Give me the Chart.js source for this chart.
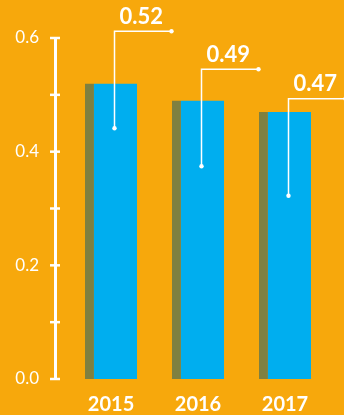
<!DOCTYPE html>
<html>
<head>
<meta charset="utf-8">
<script src="https://cdn.jsdelivr.net/npm/chart.js@4.4.1/dist/chart.umd.min.js"></script>
<style>
    html, body { margin: 0; padding: 0; background: #F7A80C; }
    #wrap { position: relative; width: 344px; height: 415px; }
</style>
</head>
<body>
<div id="wrap"><canvas id="ratioChart"></canvas></div>
<script>
// Données
const years = ['2015', '2016', '2017'];
const ratios = [0.52, 0.49, 0.47];
const yTicks = [0.0, 0.1, 0.2, 0.3, 0.4, 0.5, 0.6];

// Hauteur des repères (en unités de l'axe y) et longueur des traits, en pixels
const calloutTop = [0.612, 0.545, 0.493];
const calloutDrop = 97;
const calloutRun = 57;

const BLUE = '#00AEEF';
const OLIVE = '#7F8040';
const WHITE = '#FFFFFF';

/**
 * Croix blanches sur l'axe y à chaque graduation
 */
const axisCrossPlugin = {
    id: 'axisCross',
    afterDraw(chart) {
        const { ctx, chartArea, scales } = chart;
        const x = chartArea.left;
        ctx.save();
        ctx.strokeStyle = WHITE;
        ctx.lineWidth = 2.5;
        yTicks.forEach(v => {
            const y = scales.y.getPixelForValue(v);
            ctx.beginPath();
            ctx.moveTo(x - 5, y);
            ctx.lineTo(x + 5, y);
            ctx.stroke();
        });
        ctx.restore();
    }
};

/**
 * Traits de rappel et valeurs au-dessus des barres
 */
const calloutPlugin = {
    id: 'callouts',
    afterDatasetsDraw(chart) {
        const { ctx, scales } = chart;
        const bars = chart.getDatasetMeta(0).data;
        ctx.save();
        ctx.strokeStyle = WHITE;
        ctx.fillStyle = WHITE;
        ctx.lineWidth = 1.5;
        bars.forEach((bar, i) => {
            const x = Math.round(bar.x + 3) + 0.5;
            const top = scales.y.getPixelForValue(calloutTop[i]);
            const bottom = top + calloutDrop;

            ctx.beginPath();
            ctx.moveTo(x, bottom);
            ctx.lineTo(x, top);
            ctx.lineTo(x + calloutRun, top);
            ctx.stroke();

            [[x, bottom], [x + calloutRun, top]].forEach(([px, py]) => {
                ctx.beginPath();
                ctx.arc(px, py, 2.2, 0, Math.PI * 2);
                ctx.fill();
            });

            ctx.font = 'bold 22px Lato';
            ctx.textAlign = 'left';
            ctx.textBaseline = 'alphabetic';
            ctx.fillText(ratios[i].toFixed(2), x + 5, top - 7.5);
        });
        ctx.restore();
    }
};

const ctx = document.getElementById('ratioChart');

new Chart(ctx, {
    type: 'bar',
    data: {
        datasets: [{
            data: ratios.map((v, i) => ({ x: i, y: v })),
            backgroundColor: BLUE,
            borderColor: OLIVE,
            borderWidth: { left: 9, top: 0, right: 0, bottom: 0 },
            borderSkipped: false,
            barPercentage: 0.6,
            categoryPercentage: 1.0
        }]
    },
    options: {
        responsive: true,
        maintainAspectRatio: false,
        animation: false,
        layout: {
            padding: { top: 38, left: 0, right: 0, bottom: 0 }
        },
        plugins: {
            legend: { display: false },
            tooltip: { enabled: false }
        },
        scales: {
            x: {
                type: 'linear',
                offset: false,
                min: -0.644,
                max: 2.678,
                afterBuildTicks: scale => {
                    scale.ticks = years.map((_, i) => ({ value: i }));
                },
                afterFit: scale => { scale.height = 36; },
                grid: { display: false },
                border: { display: false },
                ticks: {
                    color: WHITE,
                    padding: 6,
                    autoSkip: false,
                    maxRotation: 0,
                    font: { family: 'Lato', size: 20, weight: 'bold' },
                    callback: value => years[value] ?? ''
                }
            },
            y: {
                min: 0,
                max: 0.6,
                afterBuildTicks: scale => {
                    scale.ticks = yTicks.map(v => ({ value: v }));
                },
                afterFit: scale => { scale.width = 55; },
                grid: { display: false, drawTicks: false },
                border: { display: true, color: WHITE, width: 3 },
                ticks: {
                    color: WHITE,
                    padding: 16,
                    font: { family: 'Lato', size: 17, weight: 'normal' },
                    callback: value => {
                        const n = Math.round(value * 10);
                        return n % 2 === 0 ? value.toFixed(1) : '';
                    }
                }
            }
        }
    },
    plugins: [axisCrossPlugin, calloutPlugin]
});
</script>
</body>
</html>
